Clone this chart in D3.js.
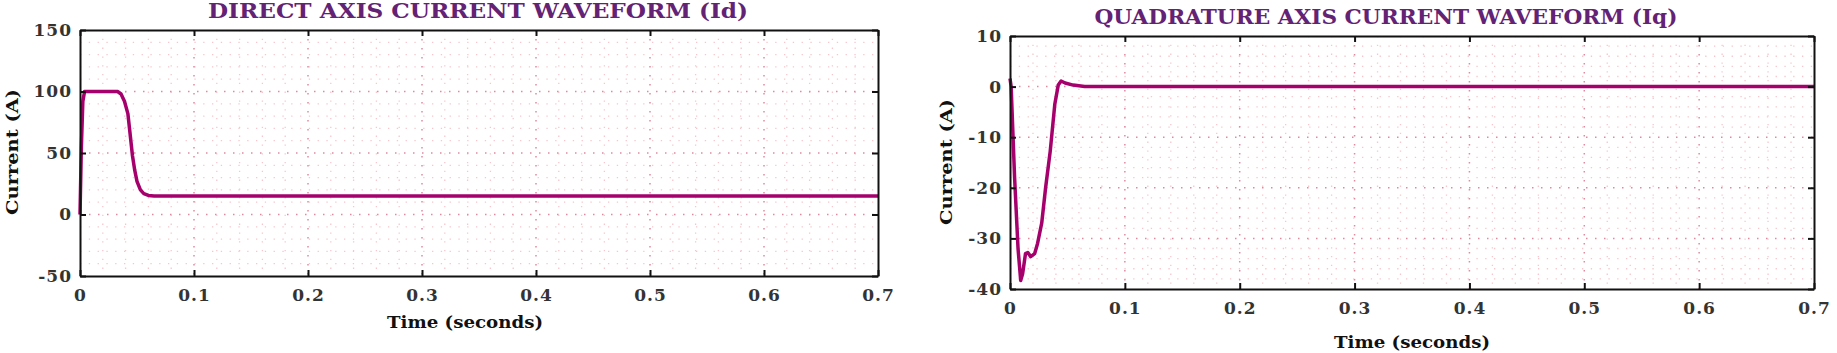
<!DOCTYPE html>
<html>
<head>
<meta charset="utf-8">
<script src="https://cdn.jsdelivr.net/npm/d3@7"></script>
<style>
  body { margin: 0; background: #fff; }
  svg { display: block; }
</style>
</head>
<body>
<div id="chart"></div>
<script>
// Direct axis current (Id) samples
const idTime  = [0, 0.0012, 0.0025, 0.004, 0.01, 0.02, 0.033, 0.036, 0.039, 0.042, 0.044, 0.046, 0.048, 0.050, 0.053, 0.056, 0.060, 0.065, 0.1, 0.7];
const idValue = [0, 55, 92, 100, 100, 100, 100, 98, 92, 82, 65, 48, 36, 27, 20, 17, 15.5, 15, 15, 15];

// Quadrature axis current (Iq) samples
const iqTime  = [0, 0.001, 0.004, 0.007, 0.0093, 0.011, 0.0135, 0.0155, 0.018, 0.0215, 0.024, 0.0276, 0.031, 0.035, 0.039, 0.042, 0.0445, 0.048, 0.055, 0.065, 0.7];
const iqValue = [1.6, 0, -18, -32, -38.3, -37, -33, -32.8, -33.6, -33, -31, -27, -20, -12.8, -3.5, 0.3, 1.1, 0.7, 0.3, 0, 0];

const xTicks = [0, 0.1, 0.2, 0.3, 0.4, 0.5, 0.6, 0.7];
const idTicks = [-50, 0, 50, 100, 150];
const iqTicks = [-40, -30, -20, -10, 0, 10];

const W = 1837, H = 353;
const svg = d3.select("#chart").append("svg")
  .attr("width", W).attr("height", H);

const lineColor = "#a5006c";
const serif = "'DejaVu Serif', 'Liberation Serif', serif";

function drawPanel(opt) {
  const x = d3.scaleLinear().domain([0, 0.7]).range([opt.left, opt.right]);
  const y = d3.scaleLinear().domain(opt.yDomain).range([opt.bottom, opt.top]);
  const g = svg.append("g");

  // minor grid (5 subdivisions)
  const xMinor = d3.range(0, 0.7001, 0.02).filter(v => Math.abs(v * 10 - Math.round(v * 10)) > 1e-6);
  const yStep = (opt.yTicks[1] - opt.yTicks[0]) / 5;
  const yMinor = d3.range(opt.yDomain[0], opt.yDomain[1] + 1e-6, yStep)
    .filter(v => !opt.yTicks.some(t => Math.abs(t - v) < 1e-6));

  g.selectAll(".xminor").data(xMinor).join("line")
    .attr("x1", d => x(d)).attr("x2", d => x(d))
    .attr("y1", opt.top).attr("y2", opt.bottom)
    .attr("stroke", "#f6c6cc").attr("stroke-width", 1.3)
    .attr("stroke-dasharray", "1.3,7.5");
  g.selectAll(".yminor").data(yMinor).join("line")
    .attr("y1", d => y(d)).attr("y2", d => y(d))
    .attr("x1", opt.left).attr("x2", opt.right)
    .attr("stroke", "#f6c6cc").attr("stroke-width", 1.3)
    .attr("stroke-dasharray", "1.3,7.5");

  // major grid
  g.selectAll(".xmajor").data(xTicks.slice(1, -1)).join("line")
    .attr("x1", d => x(d)).attr("x2", d => x(d))
    .attr("y1", opt.top).attr("y2", opt.bottom)
    .attr("stroke", "#e08aa0").attr("stroke-width", 1.5)
    .attr("stroke-dasharray", "1.5,7.5");
  g.selectAll(".ymajor").data(opt.yTicks.slice(1, -1)).join("line")
    .attr("y1", d => y(d)).attr("y2", d => y(d))
    .attr("x1", opt.left).attr("x2", opt.right)
    .attr("stroke", "#e08aa0").attr("stroke-width", 1.5)
    .attr("stroke-dasharray", "1.5,7.5");

  // data line
  const pts = opt.t.map((t, i) => [t, opt.v[i]]);
  g.append("path")
    .datum(pts)
    .attr("fill", "none")
    .attr("stroke", lineColor)
    .attr("stroke-width", 3.5)
    .attr("stroke-linejoin", "round")
    .attr("d", d3.line().x(d => x(d[0])).y(d => y(d[1])));

  // box axes with inward ticks
  const fmt = d => String(d);
  g.append("g").attr("transform", `translate(0,${opt.bottom})`)
    .call(d3.axisBottom(x).tickValues(xTicks).tickSizeInner(-6).tickSizeOuter(0).tickPadding(13).tickFormat(fmt));
  g.append("g").attr("transform", `translate(0,${opt.top})`)
    .call(d3.axisTop(x).tickValues(xTicks).tickSizeInner(-6).tickSizeOuter(0).tickFormat(""));
  g.append("g").attr("transform", `translate(${opt.left},0)`)
    .call(d3.axisLeft(y).tickValues(opt.yTicks).tickSizeInner(-6).tickSizeOuter(0).tickPadding(8).tickFormat(fmt));
  g.append("g").attr("transform", `translate(${opt.right},0)`)
    .call(d3.axisRight(y).tickValues(opt.yTicks).tickSizeInner(-6).tickSizeOuter(0).tickFormat(""));

  g.selectAll(".domain").attr("stroke", "#111").attr("stroke-width", 2);
  g.selectAll(".tick line").attr("stroke", "#111").attr("stroke-width", 2);
  g.selectAll(".tick text")
    .attr("fill", "#333")
    .style("font-family", serif)
    .style("font-weight", "bold")
    .style("font-size", "17px")
    .style("letter-spacing", "1px");

  // title
  svg.append("text")
    .attr("x", opt.titleX).attr("y", opt.titleY)
    .attr("text-anchor", "middle")
    .attr("fill", "#642274")
    .attr("textLength", opt.titleLen)
    .attr("lengthAdjust", "spacingAndGlyphs")
    .style("font-family", serif)
    .style("font-weight", "bold")
    .style("font-size", "20px")
    .text(opt.title);

  // x label
  svg.append("text")
    .attr("x", opt.xLabelX).attr("y", opt.xLabelY)
    .attr("text-anchor", "middle")
    .attr("fill", "#111")
    .attr("textLength", 156)
    .attr("lengthAdjust", "spacingAndGlyphs")
    .style("font-family", serif)
    .style("font-weight", "bold")
    .style("font-size", "17px")
    .text("Time (seconds)");

  // y label
  svg.append("text")
    .attr("transform", `translate(${opt.yLabelX},${opt.yLabelY}) rotate(-90)`)
    .attr("text-anchor", "middle")
    .attr("fill", "#111")
    .attr("textLength", 126)
    .attr("lengthAdjust", "spacingAndGlyphs")
    .style("font-family", serif)
    .style("font-weight", "bold")
    .style("font-size", "17px")
    .text("Current (A)");
}

drawPanel({
  left: 80, right: 878, top: 30, bottom: 276,
  yDomain: [-50, 150], yTicks: idTicks,
  t: idTime, v: idValue,
  title: "DIRECT AXIS CURRENT WAVEFORM (Id)", titleX: 478, titleY: 18, titleLen: 540,
  xLabelX: 465, xLabelY: 328,
  yLabelX: 18, yLabelY: 152
});

drawPanel({
  left: 1010, right: 1814, top: 36, bottom: 289,
  yDomain: [-40, 10], yTicks: iqTicks,
  t: iqTime, v: iqValue,
  title: "QUADRATURE AXIS CURRENT WAVEFORM (Iq)", titleX: 1386, titleY: 24, titleLen: 583,
  xLabelX: 1412, xLabelY: 348,
  yLabelX: 952, yLabelY: 162
});
</script>
</body>
</html>
